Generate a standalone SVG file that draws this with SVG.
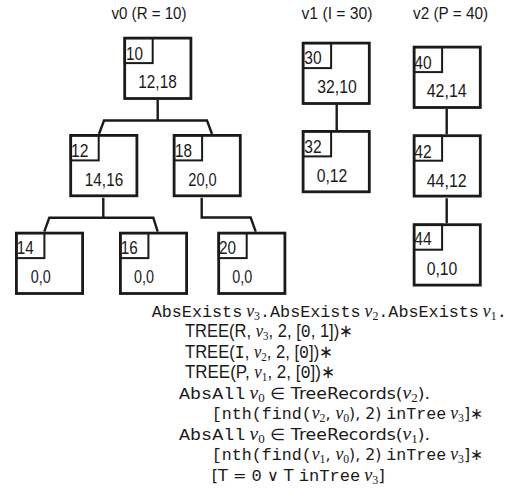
<svg xmlns="http://www.w3.org/2000/svg" width="510" height="498" viewBox="0 0 510 498">
  <style>
    .lbl { font-family: "Liberation Sans", Arial, sans-serif; fill: #1a1a1a; }
    .title { font-size: 16px; text-anchor: middle; }
    .key { font-size: 19px; }
    .val { font-size: 19px; text-anchor: middle; }
    .box { fill: #fff; stroke: #1a1a1a; stroke-width: 2.8; }
    .tag { fill: none; stroke: #1a1a1a; stroke-width: 2; }
    .edge { fill: none; stroke: #1a1a1a; stroke-width: 2.4; stroke-linejoin: miter; }
    .f { font-size: 17px; fill: #1a1a1a; font-family: "Liberation Sans", Arial, sans-serif; }
    .mono { font-family: "Liberation Mono", "DejaVu Sans Mono", monospace; }
    .sans { font-family: "Liberation Sans", Arial, sans-serif; font-size: 18px; }
    .sans2 { font-family: "DejaVu Sans", "Liberation Sans", sans-serif; font-size: 16px; }
    .mv { font-family: "Liberation Serif", "DejaVu Serif", serif; font-style: italic; font-size: 18px; }
    .sub { font-family: "Liberation Serif", "DejaVu Serif", serif; font-size: 12px; }
  </style>
  <defs>
    <g id="frame">
      <rect class="box" x="1.4" y="1.4" width="66.2" height="60.4"/>
      <rect class="tag" x="1.4" y="1.4" width="28" height="25"/>
    </g>
  </defs>

  <!-- column headings -->
  <text class="lbl title" x="149" y="19" textLength="75" lengthAdjust="spacingAndGlyphs">v0 (R = 10)</text>
  <text class="lbl title" x="337" y="19" textLength="71" lengthAdjust="spacingAndGlyphs">v1 (I = 30)</text>
  <text class="lbl title" x="450.5" y="19" textLength="75" lengthAdjust="spacingAndGlyphs">v2 (P = 40)</text>

  <!-- links between records -->
  <g id="connectors">
    <path class="edge" d="M157.7,100 V120.5 M99,134 L104,120.5 H207 L212,134"/>
    <path class="edge" d="M103.3,197.7 V217.7 M44.3,231.7 L49.3,217.7 H153.3 L157.7,231.7"/>
    <path class="edge" d="M201.7,197.7 V217.5 H250.7 L255.7,231.7"/>
    <path class="edge" d="M336.7,104.3 V130"/>
    <path class="edge" d="M446.7,109 V134.3 M446.7,198.3 V223.3"/>
  </g>

  <!-- tree v0 -->
  <g id="n10" transform="translate(123.3,36.7)">
    <use href="#frame"/>
    <text class="lbl key" x="2.7" y="23.3" textLength="17" lengthAdjust="spacingAndGlyphs">10</text>
    <text class="lbl val" x="34.2" y="51.6" textLength="38.4" lengthAdjust="spacingAndGlyphs">12,18</text>
  </g>
  <g id="n12" transform="translate(69.3,134)">
    <use href="#frame"/>
    <text class="lbl key" x="1.6" y="22.7" textLength="17.5" lengthAdjust="spacingAndGlyphs">12</text>
    <text class="lbl val" x="34.7" y="52" textLength="38.4" lengthAdjust="spacingAndGlyphs">14,16</text>
  </g>
  <g id="n18" transform="translate(172.7,134)">
    <use href="#frame"/>
    <text class="lbl key" x="2.3" y="22.7" textLength="17" lengthAdjust="spacingAndGlyphs">18</text>
    <text class="lbl val" x="29.8" y="52" textLength="28.4" lengthAdjust="spacingAndGlyphs">20,0</text>
  </g>
  <g id="n14" transform="translate(15,231.7)">
    <use href="#frame"/>
    <text class="lbl key" x="1.7" y="22.6" textLength="17" lengthAdjust="spacingAndGlyphs">14</text>
    <text class="lbl val" x="25.7" y="51.6" textLength="20" lengthAdjust="spacingAndGlyphs">0,0</text>
  </g>
  <g id="n16" transform="translate(119,231.7)">
    <use href="#frame"/>
    <text class="lbl key" x="1.7" y="22.6" textLength="17" lengthAdjust="spacingAndGlyphs">16</text>
    <text class="lbl val" x="25" y="51.6" textLength="20" lengthAdjust="spacingAndGlyphs">0,0</text>
  </g>
  <g id="n20" transform="translate(217.3,231.7)">
    <use href="#frame"/>
    <text class="lbl key" x="1.7" y="22.6" textLength="17" lengthAdjust="spacingAndGlyphs">20</text>
    <text class="lbl val" x="25" y="51.6" textLength="20" lengthAdjust="spacingAndGlyphs">0,0</text>
  </g>

  <!-- tree v1 -->
  <g id="n30" transform="translate(301.7,41.7)">
    <use href="#frame"/>
    <text class="lbl key" x="2.6" y="22.3" textLength="17.3" lengthAdjust="spacingAndGlyphs">30</text>
    <text class="lbl val" x="35.3" y="51.6" textLength="39.4" lengthAdjust="spacingAndGlyphs">32,10</text>
  </g>
  <g id="n32" transform="translate(301.7,130)">
    <use href="#frame"/>
    <text class="lbl key" x="2.6" y="23.3" textLength="17.3" lengthAdjust="spacingAndGlyphs">32</text>
    <text class="lbl val" x="30.3" y="51.7" textLength="30.6" lengthAdjust="spacingAndGlyphs">0,12</text>
  </g>

  <!-- tree v2 -->
  <g id="n40" transform="translate(412.7,45.7)">
    <use href="#frame"/>
    <text class="lbl key" x="1.6" y="23.3" textLength="17.3" lengthAdjust="spacingAndGlyphs">40</text>
    <text class="lbl val" x="34" y="51" textLength="40" lengthAdjust="spacingAndGlyphs">42,14</text>
  </g>
  <g id="n42" transform="translate(412.7,134.3)">
    <use href="#frame"/>
    <text class="lbl key" x="1.6" y="23.4" textLength="17.3" lengthAdjust="spacingAndGlyphs">42</text>
    <text class="lbl val" x="34" y="52.4" textLength="40" lengthAdjust="spacingAndGlyphs">44,12</text>
  </g>
  <g id="n44" transform="translate(412.7,223.3)">
    <use href="#frame"/>
    <text class="lbl key" x="1.6" y="21.7" textLength="17.3" lengthAdjust="spacingAndGlyphs">44</text>
    <text class="lbl val" x="29.3" y="51.7" textLength="30.7" lengthAdjust="spacingAndGlyphs">0,10</text>
  </g>

  <!-- assertion -->
  <g id="formula">
    <text class="f" x="151.7" y="316.5" textLength="355" lengthAdjust="spacingAndGlyphs"><tspan class="mono">AbsExists</tspan><tspan class="mv" dx="4">v</tspan><tspan class="sub" dy="3">3</tspan><tspan class="mono" dy="-3">.AbsExists</tspan><tspan class="mv" dx="4">v</tspan><tspan class="sub" dy="3">2</tspan><tspan class="mono" dy="-3">.AbsExists</tspan><tspan class="mv" dx="4">v</tspan><tspan class="sub" dy="3">1</tspan><tspan class="mono" dy="-3">.</tspan></text>
    <text class="f sans" x="185" y="337" textLength="168" lengthAdjust="spacingAndGlyphs">TREE(R, <tspan class="mv">v</tspan><tspan class="sub" dy="3">3</tspan><tspan dy="-3">, 2, [</tspan><tspan class="mono">0</tspan>, 1])∗</text>
    <text class="f sans" x="185" y="357.5" textLength="148" lengthAdjust="spacingAndGlyphs">TREE(<tspan class="mono">I</tspan>, <tspan class="mv">v</tspan><tspan class="sub" dy="3">2</tspan><tspan dy="-3">, 2, [</tspan><tspan class="mono">0</tspan>])∗</text>
    <text class="f sans" x="185" y="378" textLength="150" lengthAdjust="spacingAndGlyphs">TREE(P, <tspan class="mv">v</tspan><tspan class="sub" dy="3">1</tspan><tspan dy="-3">, 2, [</tspan><tspan class="mono">0</tspan>])∗</text>
    <text class="f" x="179" y="398.5" textLength="251" lengthAdjust="spacingAndGlyphs"><tspan class="mono">AbsAll</tspan><tspan class="mv" dx="4">v</tspan><tspan class="sub" dy="3">0</tspan><tspan class="sans2" dy="-3"> ∈ TreeRecords(</tspan><tspan class="mv">v</tspan><tspan class="sub" dy="3">2</tspan><tspan class="sans2" dy="-3">).</tspan></text>
    <text class="f" x="211.7" y="419" textLength="271.5" lengthAdjust="spacingAndGlyphs"><tspan class="mono">[nth(find(</tspan><tspan class="mv">v</tspan><tspan class="sub" dy="3">2</tspan><tspan class="sans2" dy="-3">, </tspan><tspan class="mv">v</tspan><tspan class="sub" dy="3">0</tspan><tspan class="sans2" dy="-3">), 2) </tspan><tspan class="mono">inTree</tspan><tspan class="mv" dx="4">v</tspan><tspan class="sub" dy="3">3</tspan><tspan class="sans2" dy="-3">]∗</tspan></text>
    <text class="f" x="179" y="439.5" textLength="251" lengthAdjust="spacingAndGlyphs"><tspan class="mono">AbsAll</tspan><tspan class="mv" dx="4">v</tspan><tspan class="sub" dy="3">0</tspan><tspan class="sans2" dy="-3"> ∈ TreeRecords(</tspan><tspan class="mv">v</tspan><tspan class="sub" dy="3">1</tspan><tspan class="sans2" dy="-3">).</tspan></text>
    <text class="f" x="211.7" y="460" textLength="271.5" lengthAdjust="spacingAndGlyphs"><tspan class="mono">[nth(find(</tspan><tspan class="mv">v</tspan><tspan class="sub" dy="3">1</tspan><tspan class="sans2" dy="-3">, </tspan><tspan class="mv">v</tspan><tspan class="sub" dy="3">0</tspan><tspan class="sans2" dy="-3">), 2) </tspan><tspan class="mono">inTree</tspan><tspan class="mv" dx="4">v</tspan><tspan class="sub" dy="3">3</tspan><tspan class="sans2" dy="-3">]∗</tspan></text>
    <text class="f" x="211.7" y="480.5" textLength="173" lengthAdjust="spacingAndGlyphs"><tspan class="sans2">[T = </tspan><tspan class="mono">0</tspan><tspan class="sans2"> ∨ T </tspan><tspan class="mono">inTree</tspan><tspan class="mv" dx="4">v</tspan><tspan class="sub" dy="3">3</tspan><tspan class="sans2" dy="-3">]</tspan></text>
  </g>
</svg>
